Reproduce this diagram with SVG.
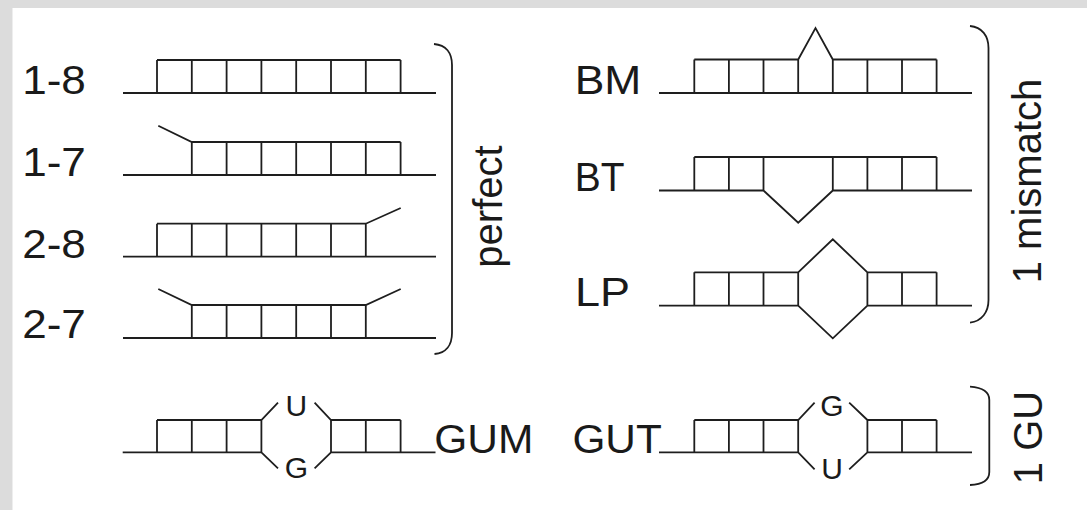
<svg xmlns="http://www.w3.org/2000/svg" width="1087" height="510" viewBox="0 0 1087 510">
<style>
.ln{fill:none;stroke:#1e1e1e;stroke-width:1.8;stroke-linejoin:miter;stroke-linecap:butt}
.br{fill:none;stroke:#1e1e1e;stroke-width:1.8}
.lb{font-family:"Liberation Sans",Arial,sans-serif;font-size:40px;fill:#1a1a1a}
.sm{font-family:"Liberation Sans",Arial,sans-serif;font-size:30px;fill:#1a1a1a;text-anchor:middle}
</style>
<rect x="0" y="0" width="1087" height="510" fill="#dcdcdc"/>
<rect x="12.5" y="8" width="1074.5" height="502" fill="#ffffff"/>

<g id="row-1-8">
<text class="lb" x="22.2" y="94" textLength="63.7" lengthAdjust="spacingAndGlyphs">1-8</text>
<path class="ln" d="M123 93H436M157 60H400.6M157 60V93M191.8 60V93M226.6 60V93M261.4 60V93M296.2 60V93M331 60V93M365.8 60V93M400.6 60V93"/>
</g>
<g id="row-1-7">
<text class="lb" x="22.2" y="176" textLength="63.7" lengthAdjust="spacingAndGlyphs">1-7</text>
<path class="ln" d="M123 175H436M158.3 125.7L191.8 142H400.6M191.8 142V175M226.6 142V175M261.4 142V175M296.2 142V175M331 142V175M365.8 142V175M400.6 142V175"/>
</g>
<g id="row-2-8">
<text class="lb" x="22.2" y="257.5" textLength="63.7" lengthAdjust="spacingAndGlyphs">2-8</text>
<path class="ln" d="M123 256.7H436M157 223.7H365.8L400.7 208M157 223.7V256.7M191.8 223.7V256.7M226.6 223.7V256.7M261.4 223.7V256.7M296.2 223.7V256.7M331 223.7V256.7M365.8 223.7V256.7"/>
</g>
<g id="row-2-7">
<text class="lb" x="22.2" y="337.5" textLength="63.7" lengthAdjust="spacingAndGlyphs">2-7</text>
<path class="ln" d="M123 338H436M158.3 289L191.8 305H365.8L400.7 289M191.8 305V338M226.6 305V338M261.4 305V338M296.2 305V338M331 305V338M365.8 305V338"/>
</g>
<g id="bracket-perfect">
<path class="br" d="M434 44C446 45 452 53 452 65V333C452 345 446 353 434.5 354"/>
<text class="lb" transform="translate(502 206.5) rotate(-90)" text-anchor="middle">perfect</text>
</g>

<g id="row-BM">
<text class="lb" x="574.7" y="94" textLength="66.6" lengthAdjust="spacingAndGlyphs">BM</text>
<path class="ln" d="M659 93H972M694.3 59.5H798.2L815.5 28L832.8 59.5H936.6M694.3 59.5V93M728.9 59.5V93M763.5 59.5V93M798.2 59.5V93M832.8 59.5V93M867.4 59.5V93M902 59.5V93M936.6 59.5V93"/>
</g>
<g id="row-BT">
<text class="lb" x="574.7" y="191" textLength="49.8" lengthAdjust="spacingAndGlyphs">BT</text>
<path class="ln" d="M694.3 157H936.6M659 190.5H763.5L798.2 222.7L832.8 190.5H972M694.3 157V190.5M728.9 157V190.5M763.5 157V190.5M832.8 157V190.5M867.4 157V190.5M902 157V190.5M936.6 157V190.5"/>
</g>
<g id="row-LP">
<text class="lb" x="575" y="306" textLength="55" lengthAdjust="spacingAndGlyphs">LP</text>
<path class="ln" d="M694.3 272.3H798.2L832.8 239.3L867.4 272.3H936.6M659 305.7H798.2L832.8 338.3L867.4 305.7H972M694.3 272.3V305.7M728.9 272.3V305.7M763.5 272.3V305.7M798.2 272.3V305.7M867.4 272.3V305.7M902 272.3V305.7M936.6 272.3V305.7"/>
</g>
<g id="bracket-mismatch">
<path class="br" d="M970 26C982 27 988.5 36 988.5 48V300C988.5 312 982 321 970 322.7"/>
<text class="lb" transform="translate(1041 181) rotate(-90)" text-anchor="middle">1 mismatch</text>
</g>

<g id="row-GUM">
<path class="ln" d="M157 420H261.4L278 402.7M314.6 402.7L331 420H400.6M122.7 452.3H261.4L278 468.3M314.6 468.3L331 452.3H435.5M157 420V452.3M191.8 420V452.3M226.6 420V452.3M261.4 420V452.3M331 420V452.3M365.8 420V452.3M400.6 420V452.3"/>
<text class="sm" x="296.3" y="416">U</text>
<text class="sm" x="296.3" y="477.5">G</text>
<text class="lb" x="434.2" y="453" textLength="99.2" lengthAdjust="spacingAndGlyphs">GUM</text>
</g>
<g id="row-GUT">
<text class="lb" x="572.4" y="453" textLength="89.4" lengthAdjust="spacingAndGlyphs">GUT</text>
<path class="ln" d="M694.3 420H798.2L814.6 402.7M849.2 402.7L867.4 420H936.6M659 452.3H798.2L814.6 469.3M849.2 469.3L867.4 452.3H972M694.3 420V452.3M728.9 420V452.3M763.5 420V452.3M798.2 420V452.3M867.4 420V452.3M902 420V452.3M936.6 420V452.3"/>
<text class="sm" x="832" y="416">G</text>
<text class="sm" x="832" y="478.5">U</text>
</g>
<g id="bracket-GU">
<path class="br" d="M970 386.7C982 387.5 989.3 391 989.3 400V472C989.3 481 982 484.5 970 485"/>
<text class="lb" transform="translate(1041.5 437.5) rotate(-90)" text-anchor="middle">1 GU</text>
</g>
<g id="connectors"/>
</svg>
